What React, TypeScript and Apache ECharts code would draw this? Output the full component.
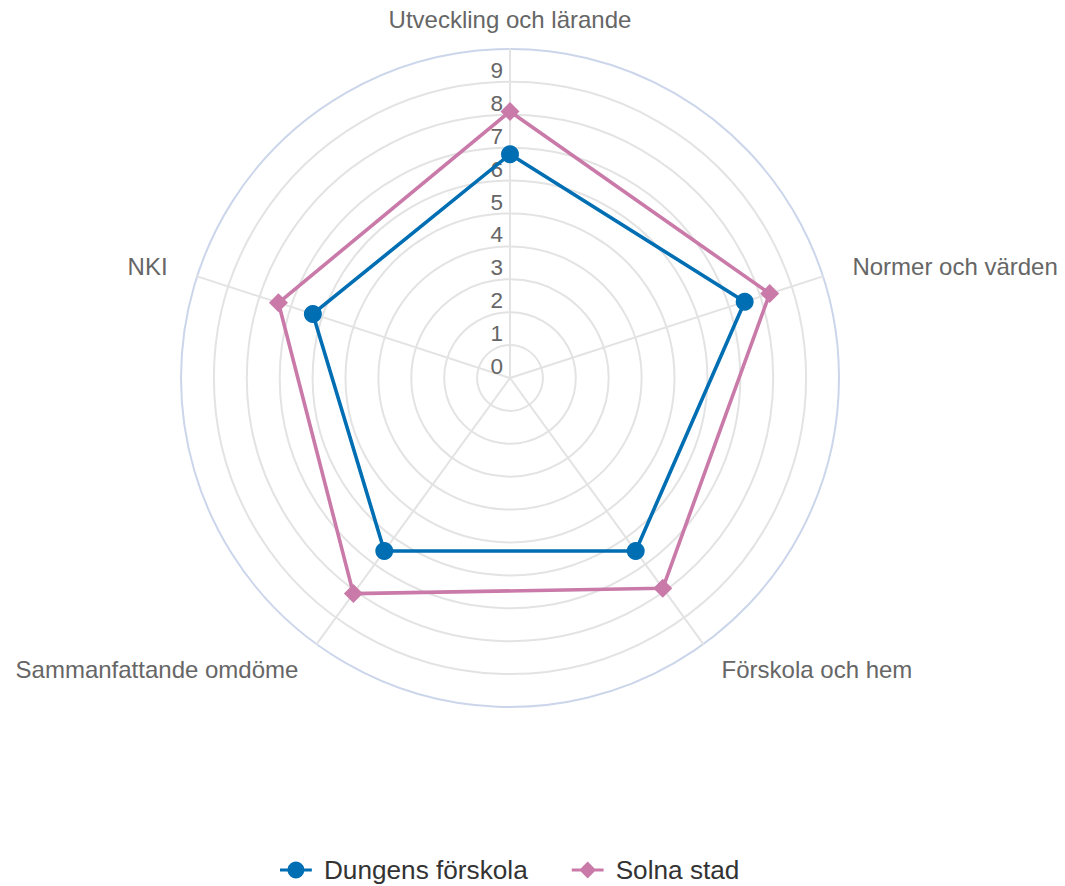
import React, { useEffect, useRef } from "react";
import * as echarts from "echarts";

const categories = [
  "Utveckling och lärande",
  "Normer och värden",
  "Förskola och hem",
  "Sammanfattande omdöme",
  "NKI",
];
const dungens = [6.8, 7.5, 6.5, 6.5, 6.3];
const solna = [8.1, 8.3, 7.9, 8.1, 7.4];
const seriesNames = ["Dungens förskola", "Solna stad"];
const tickLabels = ["0", "1", "2", "3", "4", "5", "6", "7", "8", "9"];
const axisMin = 0;
const axisMax = 10;

const FONT = "'Liberation Sans', Arial, Helvetica, sans-serif";
const BLUE = "#006eb3";
const PINK = "#c97aa9";

const circleIcon =
  "path://M0,6.5H7.14A8,8 0 0 1 22.86,6.5H30V9.5H22.86A8,8 0 0 1 7.14,9.5H0Z";
const diamondIcon =
  "path://M0,6.5H8.5L15,0L21.5,6.5H30V9.5H21.5L15,16L8.5,9.5H0Z";

export default function App() {
  const ref = useRef<HTMLDivElement>(null);
  useEffect(() => {
    if (!ref.current) return;
    const chart = echarts.init(ref.current, null, { renderer: "svg" });
    // ECharts places indicators counter-clockwise; reorder to get clockwise layout
    const order = [0, 4, 3, 2, 1];
    const ringColors = Array.from({ length: 11 }, (_, i) => (i === 10 ? "#ccd6eb" : "#e3e3e3"));
    chart.setOption({
      animation: false,
      backgroundColor: "#ffffff",
      legend: {
        left: 275,
        top: 852,
        itemWidth: 34,
        itemHeight: 17,
        itemGap: 44,
        selectedMode: false,
        textStyle: { color: "#333333", fontSize: 26.2, fontFamily: FONT, padding: [0, 0, 0, 6] },
        data: [
          { name: seriesNames[0], icon: circleIcon },
          { name: seriesNames[1], icon: diamondIcon },
        ],
      },
      radar: {
        center: [510, 378],
        radius: 329,
        startAngle: 90,
        splitNumber: 10,
        shape: "circle",
        axisName: { color: "#666666", fontSize: 24, fontFamily: FONT },
        axisLine: { lineStyle: { color: "#e3e3e3", width: 2 } },
        splitLine: { lineStyle: { color: ringColors, width: 2 } },
        splitArea: { show: false },
        axisTick: { show: false },
        axisLabel: {
          show: true,
          color: "#666666",
          fontSize: 22.5,
          fontFamily: FONT,
          verticalAlign: "bottom",
          margin: 7,
          formatter: (v: number) => tickLabels[Math.round(v)] ?? "",
        },
        indicator: order.map((i) => ({
          name: categories[i],
          min: axisMin,
          max: axisMax,
          nameGap: i === 0 ? 18 : 31,
          axisLabel: { show: i === 0 },
        })),
      },
      series: [
        {
          type: "radar",
          z: 3,
          data: [
            {
              name: seriesNames[0],
              value: order.map((i) => dungens[i]),
              symbol: "circle",
              symbolSize: 18,
              lineStyle: { color: BLUE, width: 3.6 },
              itemStyle: { color: BLUE },
            },
            {
              name: seriesNames[1],
              value: order.map((i) => solna[i]),
              symbol: "diamond",
              symbolSize: 19,
              lineStyle: { color: PINK, width: 3.6 },
              itemStyle: { color: PINK },
            },
          ],
        },
      ],
    });
    return () => chart.dispose();
  }, []);
  return (
    <div
      ref={ref}
      style={{ position: "absolute", left: 0, top: 0, width: 1065, height: 886 }}
    />
  );
}
